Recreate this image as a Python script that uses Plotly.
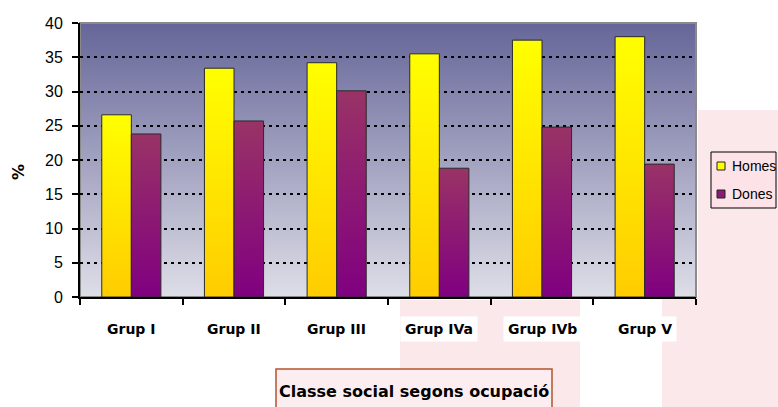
import base64
import struct
import zlib

import plotly.graph_objects as go

# ---- data ----
categories = ["Grup I", "Grup II", "Grup III", "Grup IVa", "Grup IVb", "Grup V"]
homes = [26.6, 33.4, 34.2, 35.5, 37.5, 38.0]
dones = [23.8, 25.7, 30.1, 18.8, 24.8, 19.4]
y_ticks = [0, 5, 10, 15, 20, 25, 30, 35, 40]
series_names = ["Homes", "Dones"]

# ---- geometry helpers (pixel layout of the reference) ----
W, H = 778, 407
PL, PR, PT, PB = 80, 696, 23, 297  # plot area in pixels


def px(x):
    return (x - PL) / (PR - PL)


def py(y):
    return (PB - y) / (PB - PT)


def png_gradient(top, bottom, n=256):
    rows = []
    for i in range(n):
        t = i / (n - 1)
        c = bytes(int(round(top[k] + (bottom[k] - top[k]) * t)) for k in range(3))
        rows.append(b"\x00" + c + c)
    raw = b"".join(rows)

    def chunk(tag, data):
        return (struct.pack(">I", len(data)) + tag + data
                + struct.pack(">I", zlib.crc32(tag + data) & 0xFFFFFFFF))

    ihdr = struct.pack(">IIBBBBB", 2, n, 8, 2, 0, 0, 0)
    data = (b"\x89PNG\r\n\x1a\n" + chunk(b"IHDR", ihdr)
            + chunk(b"IDAT", zlib.compress(raw)) + chunk(b"IEND", b""))
    return "data:image/png;base64," + base64.b64encode(data).decode()


fig = go.Figure()

BW = 0.288
series = [
    (series_names[0], homes, -BW, 0.0, "#FFCC00", "#FFFF00"),
    (series_names[1], dones, 0.0, BW, "#800080", "#993366"),
]
for name, vals, o0, o1, cbot, ctop in series:
    for i, v in enumerate(vals):
        x0, x1 = i + o0, i + o1
        fig.add_trace(go.Scatter(
            x=[x0, x0, x1, x1, x0], y=[0, v, v, 0, 0],
            mode="lines", fill="toself",
            fillgradient=dict(type="vertical", colorscale=[[0, cbot], [1, ctop]]),
            line=dict(color="#2a2a2a", width=1),
            showlegend=False, hoverinfo="skip", name=name,
        ))

shapes = []
pink = "#F7CDD3"
for (a, b, c, d) in [(698, 110, 778, 297), (400, 300, 580, 407), (662, 297, 778, 407)]:
    shapes.append(dict(type="rect", xref="paper", yref="paper",
                       x0=px(a), x1=px(c), y0=py(d), y1=py(b),
                       fillcolor=pink, line=dict(width=0), layer="below", opacity=0.45))
# plot frame (gray top/right)
shapes.append(dict(type="rect", xref="paper", yref="paper", x0=0, x1=1, y0=0, y1=1,
                   line=dict(color="#8a8a8a", width=2), layer="below"))
# x-axis title box
shapes.append(dict(type="rect", xref="paper", yref="paper",
                   x0=px(276), x1=px(552), y0=py(420), y1=py(369),
                   fillcolor="#FCEEF0", line=dict(color="#B5532F", width=1.5),
                   layer="below"))
# legend box and swatches
shapes.append(dict(type="rect", xref="paper", yref="paper",
                   x0=px(711), x1=px(776), y0=py(208), y1=py(152),
                   fillcolor="#FDE3E7", line=dict(color="black", width=1), layer="above"))
legend_cols = ["#FFFF00", "#8A1C78"]
legend_y = [166, 194]
for col, ly in zip(legend_cols, legend_y):
    shapes.append(dict(type="rect", xref="paper", yref="paper",
                       x0=px(717), x1=px(725), y0=py(ly + 4), y1=py(ly - 4),
                       fillcolor=col, line=dict(color="#222", width=1), layer="above"))

annotations = []
for i, c in enumerate(categories):
    annotations.append(dict(x=i, xref="x", y=py(329), yref="paper", text=f"<b>{c}</b>",
                            showarrow=False, bgcolor="white", borderpad=4,
                            font=dict(family="DejaVu Sans", size=14, color="black"),
                            xanchor="center", yanchor="middle"))
annotations.append(dict(x=px(414), xref="paper", y=py(391), yref="paper",
                        text="<b>Classe social segons ocupació</b>", showarrow=False,
                        font=dict(family="DejaVu Sans", size=16, color="black"),
                        xanchor="center", yanchor="middle"))
annotations.append(dict(x=px(19), xref="paper", y=py(172), yref="paper",
                        text="<b>%</b>", showarrow=False, textangle=-90,
                        font=dict(family="DejaVu Sans", size=16, color="black"),
                        xanchor="center", yanchor="middle"))
for name, ly in zip(series_names, legend_y):
    annotations.append(dict(x=px(730), xref="paper", y=py(ly), yref="paper",
                            text=name, showarrow=False,
                            font=dict(family="Liberation Sans", size=14, color="black"),
                            xanchor="left", yanchor="middle"))

fig.update_layout(
    width=W, height=H,
    margin=dict(l=PL, r=W - PR, t=PT, b=H - PB, autoexpand=False),
    paper_bgcolor="white", plot_bgcolor="#9999BB",
    images=[dict(source=png_gradient((102, 102, 153), (222, 222, 232)),
                 xref="paper", yref="paper", x=0, y=1, sizex=1, sizey=1,
                 xanchor="left", yanchor="top", sizing="stretch", layer="below")],
    shapes=shapes, annotations=annotations,
    showlegend=False,
    xaxis=dict(range=[-0.5, 5.5], tickvals=[i - 0.5 for i in range(7)],
               showticklabels=False, ticks="outside", ticklen=6, tickwidth=1.5,
               tickcolor="black", showline=True, linecolor="black", linewidth=2,
               showgrid=False, zeroline=False, fixedrange=True),
    yaxis=dict(range=[0, 40], tickvals=y_ticks, ticks="outside", ticklen=6,
               tickwidth=1.5, tickcolor="black", showline=True, linecolor="black",
               linewidth=2, showgrid=True, gridcolor="black", gridwidth=2,
               griddash="3px,4px", zeroline=False, ticklabelstandoff=6,
               tickfont=dict(family="Liberation Sans", size=16, color="black"),
               fixedrange=True),
)

fig.write_html("out.html", config={"displayModeBar": False},
               post_script="document.body.style.margin='0px';")
